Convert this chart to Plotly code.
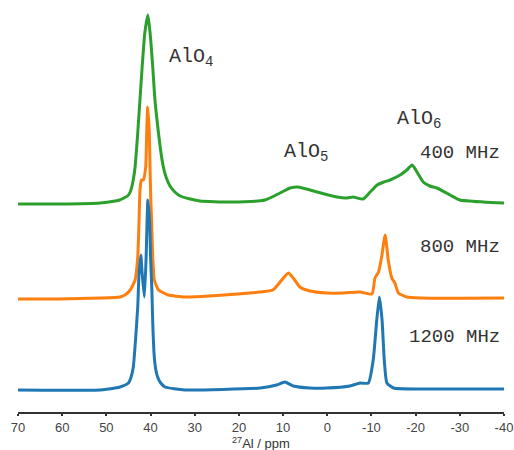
import plotly.graph_objects as go

# ---- data (ppm, intensity above each trace's baseline) ----
ppm_400 = [70.2, 60.5, 51.4, 48.0, 47.0, 46.0, 45.2, 44.6, 44.0, 43.5, 42.9, 42.4, 41.9, 41.3, 40.6,
           40.1, 39.5, 39.0, 38.2, 37.6, 37.1, 36.5, 35.6, 34.5, 33.3, 31.0, 28.8, 22.0, 14.1, 10.7, 8.4,
           6.6, 3.9, 2.3, -2.2, -4.5, -5.8, -8.1, -9.7, -11.3, -12.8, -14.2, -16.5, -18.0,
           -19.2, -20.3, -21.7, -23.2, -24.8, -27.8, -30.0, -35.3, -40.0]
int_400 = [0, 0, 1, 3, 4, 6, 8, 12, 22, 37, 71, 104, 137, 171, 189,
           171, 137, 104, 71, 50, 37, 27, 18, 12, 8, 5, 3, 2, 4, 11, 16,
           17, 14, 12, 7, 6, 7, 5, 12, 19, 22, 24, 29, 34,
           39, 32, 22, 18, 16, 9, 4, 2, 1]

ppm_800 = [70.2, 60.5, 51.4, 46.9, 45.8, 44.6, 43.5, 42.9, 42.61, 42.39, 42.05, 41.64,
           41.1, 40.87, 40.64, 40.28, 40.12, 39.94, 39.74, 39.5, 39.15, 38.2, 37.0, 36.0, 32.2,
           17.5, 15.2, 12.3, 10.3, 8.8, 7.7, 6.2, 3.9, 0.1, -3.6, -7.4, -10.1,
           -10.8, -11.6, -12.3, -13.1, -13.8, -14.6, -15.3, -16.1, -18.0, -21.0, -40.0]
int_800 = [0, 0, 1, 2, 4, 9, 19, 42, 76, 109, 119, 119,
           132, 166, 192, 166, 132, 99, 76, 42, 19, 9, 6, 4, 2,
           6, 7, 9, 19, 26, 21, 12, 8, 6, 6, 7, 5,
           21, 27, 42, 64, 39, 21, 16, 6, 2, 1, 1]

ppm_1200 = [70.2, 51.4, 48.0, 46.9, 45.0, 44.4, 43.9, 43.4, 42.9, 42.6, 42.2, 41.9, 41.4,
            41.0, 40.8, 40.6, 40.2, 40.0, 39.7, 39.5, 39.15, 38.8, 38.4, 37.7, 36.7, 32.2, 15.2,
            11.45, 9.6, 7.7, 3.9, 0.1, -5.1, -7.4, -9.3, -10.4, -11.2, -11.8, -12.4,
            -12.9, -13.5, -15.0, -21.0, -40.0]
int_1200 = [0, 0, 2, 3, 7, 13, 23, 50, 83, 117, 135, 117, 93,
            133, 167, 190, 167, 133, 100, 67, 33, 20, 13, 7, 3, 0, 2,
            5, 8, 4, 2, 2, 4, 7, 7, 30, 70, 93, 70,
            30, 7, 2, 1, 1]

series_names = ["400 MHz", "800 MHz", "1200 MHz"]
series_offsets = [208, 113, 22]

tick_vals = [70, 60, 50, 40, 30, 20, 10, 0, -10, -20, -30, -40]
tick_text = ["70", "60", "50", "40", "30", "20", "10", "0", "-10", "-20", "-30", "-40"]

colors = ["#2ca02c", "#ff7f0e", "#1f77b4"]

fig = go.Figure()
all_x = [ppm_400, ppm_800, ppm_1200]
all_y = [int_400, int_800, int_1200]
for xs, ys, off, c, name in zip(all_x, all_y, series_offsets, colors, series_names):
    fig.add_trace(go.Scatter(
        x=xs, y=[v + off for v in ys], mode="lines", name=name,
        line=dict(color=c, width=3, shape="spline", smoothing=0.5),
        hoverinfo="skip", showlegend=False))

mono = "Liberation Mono, Courier New, monospace"
txt_col = "#333333"

def ann(text, x, y, xanchor="center", size=20):
    fig.add_annotation(x=x, y=y, xref="x", yref="y", text=text, showarrow=False,
                       xanchor=xanchor, yanchor="middle",
                       font=dict(family=mono, size=size, color=txt_col))

ann("AlO<sub>4</sub>", 30.8, 355)
ann("AlO<sub>5</sub>", 4.8, 260)
ann("AlO<sub>6</sub>", -20.8, 293)
ann("400 MHz", -39.5, 259, xanchor="right", size=19)
ann("800 MHz", -39.5, 165, xanchor="right", size=19)
ann("1200 MHz", -39.5, 75, xanchor="right", size=19)

# axis title as paper annotation
fig.add_annotation(x=0.5, y=-0.076, xref="paper", yref="paper",
                   text="<sup>27</sup>Al / ppm", showarrow=False,
                   xanchor="center", yanchor="middle",
                   font=dict(family="Liberation Sans, Arial", size=13, color="#333333"))

fig.update_layout(
    width=514, height=450,
    margin=dict(l=18, r=10, t=0, b=38, autoexpand=False),
    paper_bgcolor="white", plot_bgcolor="white",
    xaxis=dict(range=[70, -40], tickvals=tick_vals, ticktext=tick_text,
               automargin=False, ticklabeloverflow="allow",
               showgrid=False, zeroline=False, showline=True, linecolor="#333333",
               linewidth=2, ticks="outside", ticklen=2, tickwidth=2, tickcolor="#333333",
               tickfont=dict(family="Liberation Sans, Arial", size=13, color="#444444")),
    yaxis=dict(range=[0, 412], visible=False, showgrid=False, zeroline=False,
               automargin=False),
)

fig.write_html("out.html", config={"displayModeBar": False},
               post_script="document.body.style.margin='0';")
